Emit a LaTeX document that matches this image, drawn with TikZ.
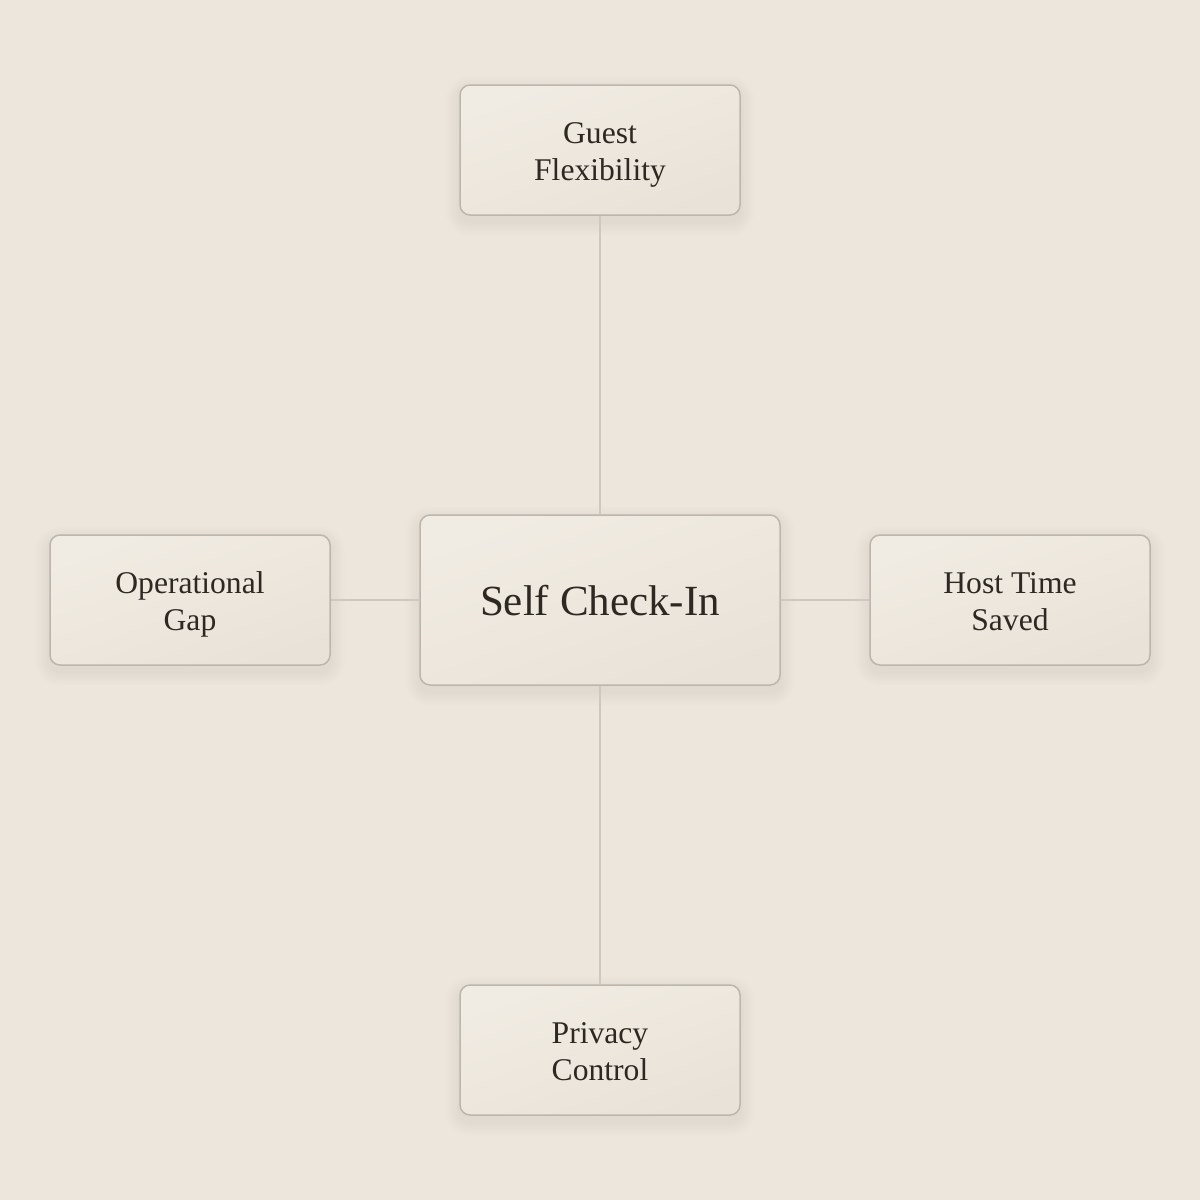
\documentclass[tikz,border=0pt]{standalone}
\usepackage{fontspec}
\setmainfont{Liberation Serif}
\definecolor{bgc}{HTML}{EDE6DD}
\definecolor{boxtop}{HTML}{F1ECE3}
\definecolor{boxbot}{HTML}{E9E2D8}
\definecolor{boxline}{HTML}{BDB6AD}
\definecolor{linkc}{HTML}{CFC8BF}
\definecolor{shadowc}{HTML}{8A7C6C}
\definecolor{txt}{HTML}{2E2823}
\tikzset{
  box/.style={draw=boxline, line width=0.75pt, rounded corners=5pt, top color=boxtop, bottom color=boxbot, shading angle=20,
    align=center, text=txt, inner sep=0pt},
  small/.style={box, minimum width=140pt, minimum height=65pt, text height=36pt, text depth=6pt,
    font=\fontsize{15.8pt}{18.5pt}\selectfont},
  big/.style={box, minimum width=180pt, minimum height=85pt, text height=20pt, text depth=5pt,
    font=\fontsize{21.5pt}{24pt}\selectfont},
  link/.style={draw=linkc, line width=0.75pt},
  shadowlayer/.style={fill=shadowc, fill opacity=0.007, draw=none}
}
\newcommand{\softshadow}[1]{%
  \foreach \k in {1,...,12}{%
    \fill[shadowlayer, rounded corners={5pt+\k*0.6pt}]
      ([xshift=-\k*0.6pt, yshift=-3pt-\k*0.6pt]#1.south west) rectangle ([xshift=\k*0.6pt, yshift=-3pt+\k*0.6pt]#1.north east);
  }%
}
\begin{document}
\begin{tikzpicture}[x=0.5pt,y=-0.5pt]
\fill[bgc] (0,0) rectangle (1200,1200);
\useasboundingbox (0,0) rectangle (1200,1200);
\path (600,600) coordinate (pc) (600,150) coordinate (pt) (190,600) coordinate (pl)
      (1010,600) coordinate (pr) (600,1050) coordinate (pb);
\begin{scope}[every node/.style={draw=none, fill=none, inner sep=0pt}]
\node[minimum width=180pt, minimum height=85pt] (sc) at (pc) {};
\node[minimum width=140pt, minimum height=65pt] (st) at (pt) {};
\node[minimum width=140pt, minimum height=65pt] (sl) at (pl) {};
\node[minimum width=140pt, minimum height=65pt] (sr) at (pr) {};
\node[minimum width=140pt, minimum height=65pt] (sb) at (pb) {};
\end{scope}
\softshadow{sc}\softshadow{st}\softshadow{sl}\softshadow{sr}\softshadow{sb}
\node[big] (c) at (pc) {Self Check-In};
\node[small] (t) at (pt) {Guest\\Flexibility};
\node[small] (l) at (pl) {Operational\\Gap};
\node[small] (r) at (pr) {Host Time\\Saved};
\node[small] (b) at (pb) {Privacy\\Control};
\draw[link] (t.south) -- (c.north);
\draw[link] (c.south) -- (b.north);
\draw[link] (l.east) -- (c.west);
\draw[link] (c.east) -- (r.west);
\end{tikzpicture}
\end{document}
